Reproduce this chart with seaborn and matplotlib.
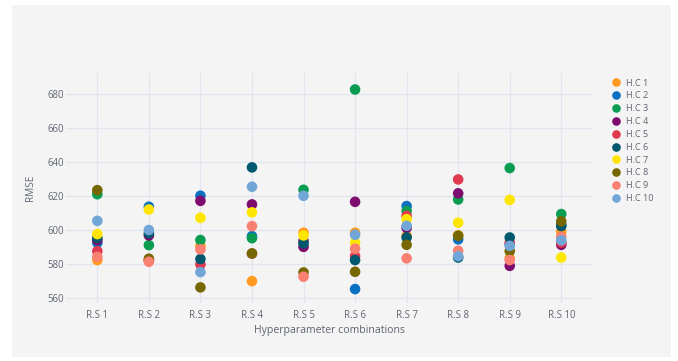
import matplotlib
matplotlib.use("Agg")
import matplotlib.pyplot as plt
from matplotlib.patches import Rectangle
from matplotlib.lines import Line2D
import seaborn as sns
import pandas as pd

# Random-search runs on the x axis
runs = ["R.S 1", "R.S 2", "R.S 3", "R.S 4", "R.S 5",
        "R.S 6", "R.S 7", "R.S 8", "R.S 9", "R.S 10"]

# RMSE of each hyperparameter combination, one value per run
hc1 = [582.2, 582.0, 590.4, 569.8, 598.3, 598.3, 596.5, 596.8, 583.2, 598.9]
hc2 = [592.4, 613.6, 620.1, 596.3, 593.5, 565.1, 614.0, 594.4, 591.5, 603.0]
hc3 = [621.0, 591.0, 594.0, 595.1, 623.6, 682.7, 611.1, 617.9, 636.4, 609.3]
hc4 = [594.0, 596.7, 617.1, 615.0, 590.0, 616.5, 601.2, 621.5, 578.8, 591.2]
hc5 = [587.4, 582.0, 579.6, 586.0, 593.2, 584.5, 608.3, 629.7, 592.4, 592.5]
hc6 = [595.3, 598.0, 582.8, 636.8, 592.0, 582.2, 595.5, 583.7, 595.5, 602.2]
hc7 = [597.5, 612.0, 607.1, 610.3, 596.7, 592.4, 606.3, 604.2, 617.7, 583.7]
hc8 = [623.4, 583.0, 566.1, 586.1, 574.9, 575.3, 591.2, 596.5, 587.5, 605.0]
hc9 = [584.1, 581.2, 588.5, 602.2, 572.4, 588.9, 583.2, 587.7, 582.2, 595.9]
hc10 = [605.3, 599.9, 575.1, 625.4, 620.1, 597.1, 602.4, 584.5, 590.6, 593.8]

series_names = ["H.C 1", "H.C 2", "H.C 3", "H.C 4", "H.C 5",
                "H.C 6", "H.C 7", "H.C 8", "H.C 9", "H.C 10"]
series_values = [hc1, hc2, hc3, hc4, hc5, hc6, hc7, hc8, hc9, hc10]
series_colors = ["#FF9A1F", "#0B6FC2", "#0A9D52", "#7E0B6E", "#E03A4E",
                 "#00586E", "#FFE600", "#776700", "#FA8072", "#72A6D6"]

y_ticks = [560, 580, 600, 620, 640, 660, 680]

rows = []
for name, vals in zip(series_names, series_values):
    for run, v in zip(runs, vals):
        rows.append({"run": run, "RMSE": v, "combo": name})
df = pd.DataFrame(rows)

sns.set_theme(style="white")
plt.rcParams["font.family"] = ["Open Sans", "DejaVu Sans"]

PANEL = "#f4f4f5"
GRID = "#e2e5ed"
TXT = "#5f6571"

fig = plt.figure(figsize=(6.78, 3.61), dpi=100, facecolor="white")
W, H = 678, 361
# grey card behind the chart
fig.patches.append(Rectangle((12 / W, 1 - 357 / H), (671 - 12) / W, (357 - 5) / H,
                             transform=fig.transFigure, facecolor=PANEL,
                             edgecolor="none", zorder=-5))

left, right, top, bottom = 66.4, 592.2, 72.7, 303.0
ax = fig.add_axes([left / W, 1 - bottom / H, (right - left) / W, (bottom - top) / H])
ax.set_zorder(2)
ax.set_facecolor(PANEL)

palette = dict(zip(series_names, series_colors))
sns.scatterplot(data=df, x="run", y="RMSE", hue="combo", palette=palette,
                hue_order=series_names, s=58, linewidth=0, ax=ax,
                legend=False, zorder=3)

ax.set_xlim(-0.6, 9.6)
ax.set_ylim(556.9, 692.6)
ax.set_yticks(y_ticks)
ax.grid(True, color=GRID, linewidth=1.0, zorder=0)
ax.set_axisbelow(True)
for sp in ax.spines.values():
    sp.set_visible(False)
ax.tick_params(axis="both", length=0, labelsize=6.9, colors=TXT)
ax.tick_params(axis="x", pad=5)
ax.tick_params(axis="y", pad=2)
ax.set_xlabel("Hyperparameter combinations", fontsize=7.6, color=TXT, labelpad=3)
ax.set_ylabel("RMSE", fontsize=7.2, color=TXT, labelpad=8)

handles = [Line2D([0], [0], marker="o", linestyle="none", markersize=6.2,
                  markerfacecolor=c, markeredgewidth=0) for c in series_colors]
fig.legend(handles, series_names, loc="upper left",
           bbox_to_anchor=(611 / W, 1 - 78.5 / H), bbox_transform=fig.transFigure,
           frameon=False, fontsize=6.6, labelcolor=TXT, handlelength=1.0,
           handletextpad=0.6, labelspacing=0.42, borderpad=0, borderaxespad=0)

fig.savefig("out.png", dpi=100, facecolor="white")
